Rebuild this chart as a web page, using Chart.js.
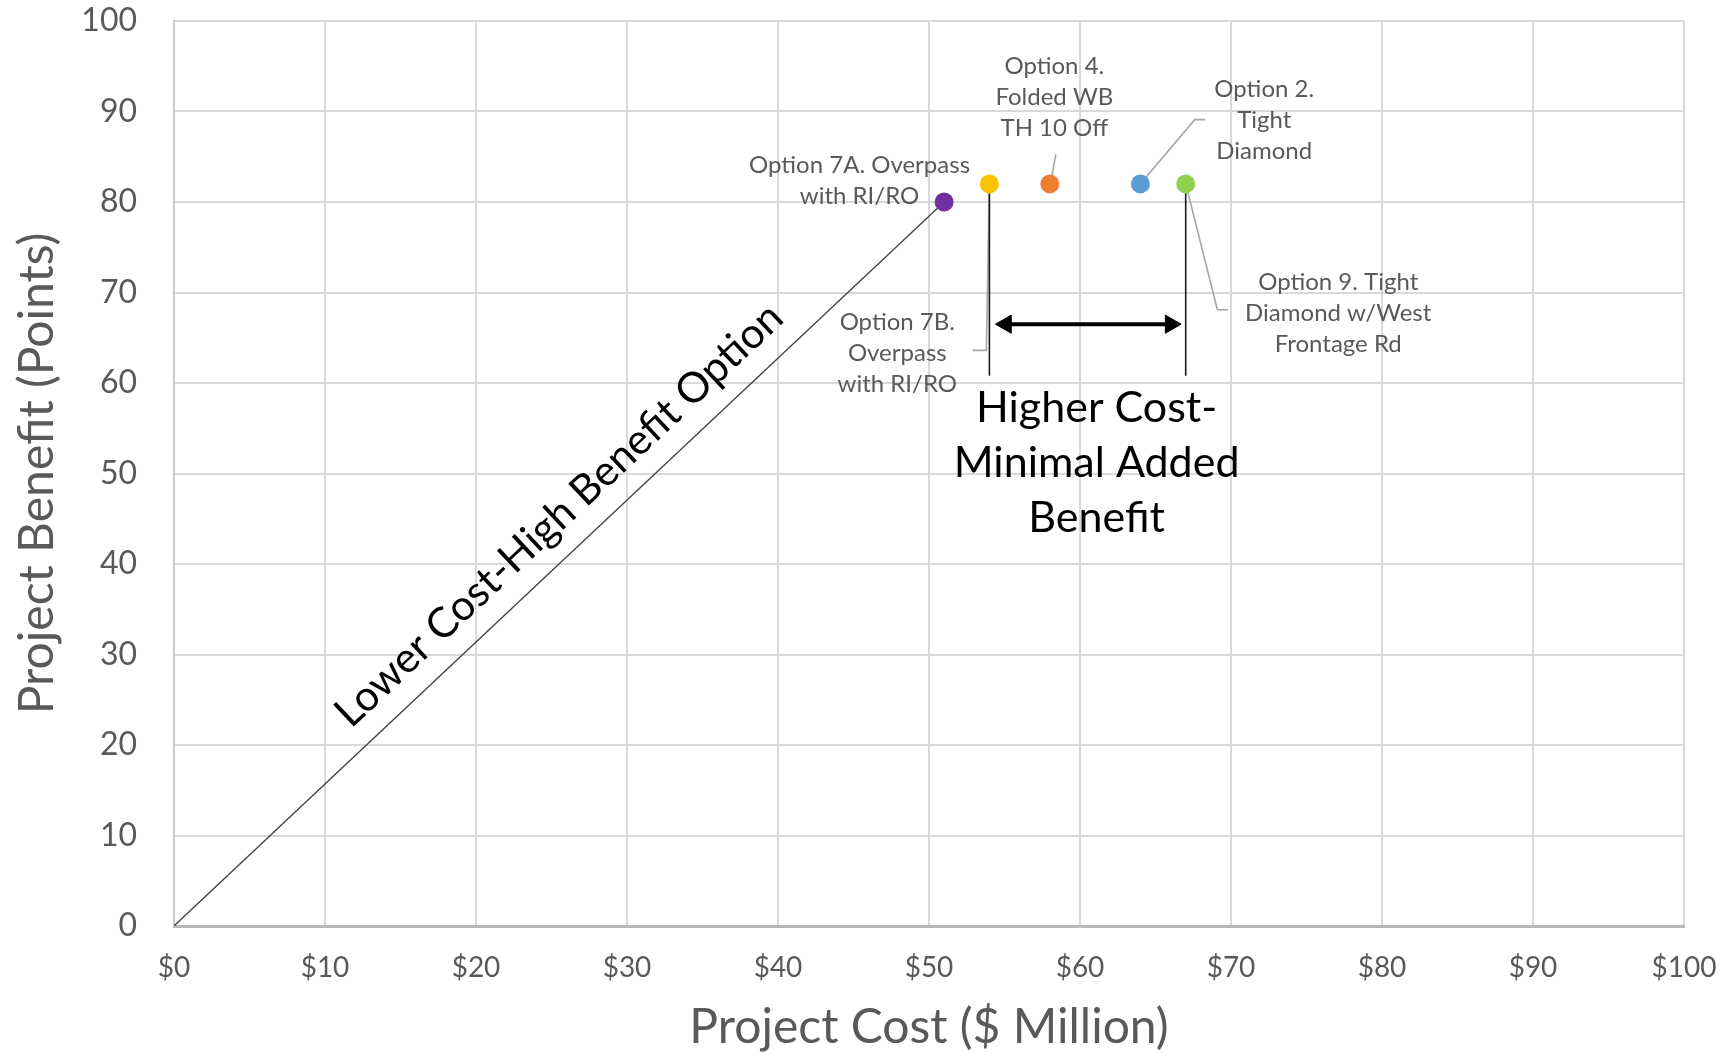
<!DOCTYPE html>
<html>
<head>
<meta charset="utf-8">
<title>Project Cost vs Project Benefit</title>
<script src="https://cdn.jsdelivr.net/npm/chart.js@4.4.1/dist/chart.umd.min.js"></script>
<style>
  html, body { margin: 0; padding: 0; background: #fff; }
  #wrap { width: 1726px; height: 1053px; }
</style>
</head>
<body>
<div id="wrap"><canvas id="cost-benefit"></canvas></div>
<script>
// options: cost ($ million) against benefit (points)
const optionNames = ['Option 7A', 'Option 7B', 'Option 4', 'Option 2', 'Option 9'];
const optionCost = [51, 54, 58, 64, 67];
const optionBenefit = [80, 82, 82, 82, 82];
const optionColors = ['#7030a0', '#ffc000', '#ed7d31', '#5b9bd5', '#92d050'];

const costTicks = [0, 10, 20, 30, 40, 50, 60, 70, 80, 90, 100];
const benefitTicks = [0, 10, 20, 30, 40, 50, 60, 70, 80, 90, 100];

// line from the origin up to option 7A
const trendCost = [0, 51];
const trendBenefit = [0, 80];

// the two drop lines and the double arrow between them
const dropLeftCost = [54, 54];
const dropRightCost = [67, 67];
const dropBenefit = [82, 60.8];
const arrowCost = [55.1, 66.0];
const arrowBenefit = [66.5, 66.5];

// grey callout leaders
const leader7BCost = [54, 53.8, 52.9];
const leader7BBenefit = [82, 63.6, 63.6];
const leader4Cost = [58.1, 58.4];
const leader4Benefit = [82.5, 85.3];
const leader2Cost = [64.1, 67.6, 68.3];
const leader2Benefit = [82.2, 89.1, 89.1];
const leader9Cost = [67, 69.1, 69.8];
const leader9Benefit = [82, 68.1, 68.1];

const pts = (xs, ys) => xs.map((v, i) => ({ x: v, y: ys[i] }));

const grey = '#595959';
const smallFont = '24px Lato';
const bigFont = '43px Lato';

// text placed in data units, lines centred
const notes = [
  { lines: ['Option 7A. Overpass', 'with RI/RO'], x: 45.4, y: 82.3, font: smallFont, color: grey, lh: 31 },
  { lines: ['Option 4.', 'Folded WB', 'TH 10 Off'], x: 58.3, y: 91.6, font: smallFont, color: grey, lh: 31 },
  { lines: ['Option 2.', 'Tight', 'Diamond'], x: 72.2, y: 89.0, font: smallFont, color: grey, lh: 31 },
  { lines: ['Option 7B.', 'Overpass', 'with RI/RO'], x: 47.9, y: 63.3, font: smallFont, color: grey, lh: 31 },
  { lines: ['Option 9. Tight', 'Diamond w/West', 'Frontage Rd'], x: 77.1, y: 67.7, font: smallFont, color: grey, lh: 31 },
  { lines: ['Higher Cost-', 'Minimal Added', 'Benefit'], x: 61.1, y: 51.1, font: bigFont, color: '#000', lh: 55 }
];
const trendNote = { text: 'Lower Cost-High Benefit Option', x: 25.5, y: 45.4, font: '42px Lato', color: '#000' };

const annotate = {
  id: 'annotate',
  afterDatasetsDraw(chart) {
    const { ctx, scales: { x, y } } = chart;
    ctx.save();
    ctx.textAlign = 'center';
    ctx.textBaseline = 'middle';
    notes.forEach(n => {
      ctx.font = n.font;
      ctx.fillStyle = n.color;
      const cx = x.getPixelForValue(n.x);
      const top = y.getPixelForValue(n.y) - (n.lines.length - 1) * n.lh / 2;
      n.lines.forEach((t, i) => ctx.fillText(t, cx, top + i * n.lh));
    });
    // caption follows the slope of the trend line
    const angle = Math.atan2(
      y.getPixelForValue(trendBenefit[1]) - y.getPixelForValue(trendBenefit[0]),
      x.getPixelForValue(trendCost[1]) - x.getPixelForValue(trendCost[0])
    );
    ctx.translate(x.getPixelForValue(trendNote.x), y.getPixelForValue(trendNote.y));
    ctx.rotate(angle);
    ctx.font = trendNote.font;
    ctx.fillStyle = trendNote.color;
    ctx.fillText(trendNote.text, 0, 0);
    ctx.restore();
  }
};

const lineSet = (data, color, width) => ({
  data, showLine: true, borderColor: color, borderWidth: width, pointRadius: 0, fill: false
});

new Chart(document.getElementById('cost-benefit'), {
  type: 'scatter',
  data: {
    datasets: [
      {
        label: 'Options',
        data: pts(optionCost, optionBenefit),
        backgroundColor: optionColors,
        borderWidth: 0,
        pointRadius: 9.5
      },
      lineSet(pts(dropLeftCost, dropBenefit), '#1a1a1a', 1.6),
      lineSet(pts(dropRightCost, dropBenefit), '#1a1a1a', 1.6),
      {
        data: pts(arrowCost, arrowBenefit),
        showLine: true,
        borderColor: '#000',
        borderWidth: 4,
        pointStyle: 'triangle',
        rotation: [-90, 90],
        pointRadius: 10.5,
        pointBackgroundColor: '#000',
        pointBorderColor: '#000',
        pointBorderWidth: 1
      },
      lineSet(pts(leader7BCost, leader7BBenefit), '#a6a6a6', 1.6),
      lineSet(pts(leader4Cost, leader4Benefit), '#a6a6a6', 1.6),
      lineSet(pts(leader2Cost, leader2Benefit), '#a6a6a6', 1.6),
      lineSet(pts(leader9Cost, leader9Benefit), '#a6a6a6', 1.6),
      lineSet(pts(trendCost, trendBenefit), '#404040', 1.3)
    ]
  },
  options: {
    responsive: true,
    maintainAspectRatio: false,
    animation: false,
    events: [],
    layout: { padding: { top: 21, right: 42, bottom: 0, left: 0 } },
    plugins: { legend: { display: false }, tooltip: { enabled: false } },
    scales: {
      x: {
        type: 'linear',
        min: 0,
        max: 100,
        afterBuildTicks: s => { s.ticks = costTicks.map(v => ({ value: v })); },
        afterFit: s => { s.height = 127; s.paddingLeft = 0; s.paddingRight = 0; },
        grid: { color: '#d9d9d9', lineWidth: 2, drawTicks: false },
        border: { color: '#b8b8b8', width: 3 },
        ticks: {
          padding: 25,
          color: grey,
          font: { family: 'Lato', size: 28 },
          callback: v => '$' + v
        },
        title: {
          display: true,
          text: 'Project Cost ($ Million)',
          color: grey,
          font: { family: 'Lato', size: 48, lineHeight: 1 },
          padding: { top: 0, bottom: 1 }
        }
      },
      y: {
        type: 'linear',
        min: 0,
        max: 100,
        afterBuildTicks: s => { s.ticks = benefitTicks.map(v => ({ value: v })); },
        afterFit: s => { s.width = 174; s.paddingTop = 0; s.paddingBottom = 0; },
        grid: { color: '#d9d9d9', lineWidth: 2, drawTicks: false },
        border: { color: '#cccccc', width: 2 },
        ticks: {
          padding: 37,
          color: grey,
          font: { family: 'Lato', size: 32 }
        },
        title: {
          display: true,
          text: 'Project Benefit (Points)',
          color: grey,
          font: { family: 'Lato', size: 48, lineHeight: 1 },
          padding: { top: 14, bottom: 0 }
        }
      }
    }
  },
  plugins: [annotate]
});
</script>
</body>
</html>
